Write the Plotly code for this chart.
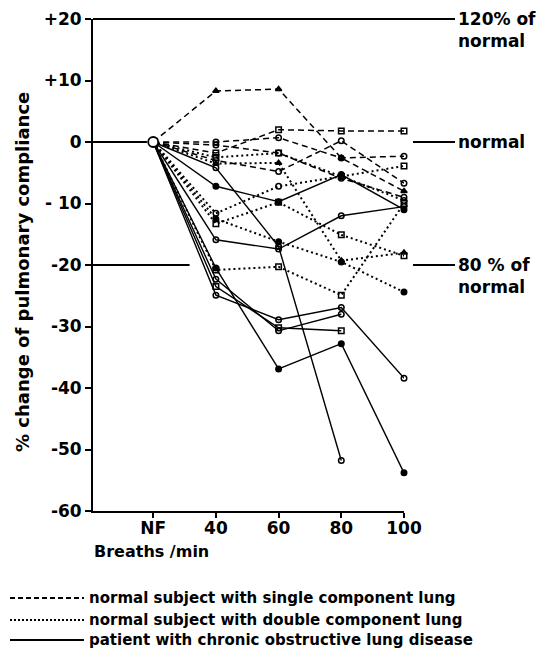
import plotly.graph_objects as go

# ---------------- data ----------------
categories = ["NF", "40", "60", "80", "100"]

# normal subjects, single component lung (dashed)
single_1 = [0, 8.3, 8.6, -2.6, -8.0]
single_2 = [0, -1.8, 2.0, 1.8, 1.8]
single_3 = [0, 0.0, 0.7, -2.6, -2.3]
single_4 = [0, -3.0, -4.8, 0.2, -6.7]
single_5 = [0, -0.5, -1.8, -5.9, -9.0]

# normal subjects, double component lung (dotted)
double_1 = [0, -2.5, -1.8, -5.6, -3.9]
double_2 = [0, -3.5, -3.4, -19.3, -18.0]
double_3 = [0, -11.6, -7.2, -5.6, -9.5]
double_4 = [0, -13.3, -9.8, -15.1, -18.5]
double_5 = [0, -20.8, -20.3, -24.9, -10.0]
double_6 = [0, -12.5, -16.2, -19.5, -24.4]

# patients with chronic obstructive lung disease (solid)
copd_1 = [0, -4.2, -17.0, -51.8, None]
copd_2 = [0, -7.2, -9.7, -5.3, -11.0]
copd_3 = [0, -15.9, -17.4, -12.0, -10.5]
copd_4 = [0, -24.9, -28.9, -26.9, -38.4]
copd_5 = [0, -20.5, -36.9, -32.8, -53.8]
copd_6 = [0, -22.3, -30.7, -28.0, None]
copd_7 = [0, -23.5, -30.2, -30.7, None]

y_ticks = [20, 10, 0, -10, -20, -30, -40, -50, -60]
y_tick_labels = ["+20", "+10", "0", "- 10", "-20", "-30", "-40", "-50", "-60"]

ref_levels = [20, 0, -20]
ref_labels = ["120% of<br>normal", "normal", "80 % of<br>normal"]

legend_labels = [
    "normal subject with single component lung",
    "normal subject with double component lung",
    "patient with chronic obstructive lung disease",
]

y_title = "% change of pulmonary compliance"
x_title = "Breaths /min"

# ---------------- layout constants ----------------
OFF = 8  # page body margin of the browser
W, H = 550 - OFF, 651 - OFF
ML, MR, MT, MB = 93 - OFF, 146, 19 - OFF, 140
PW, PH = W - ML - MR, H - MT - MB
Y_MIN, Y_MAX = -60, 20
X_MIN, X_MAX = -0.96, 4.0
FONT = "DejaVu Sans"


def px_x(px):
    return (px - OFF - ML) / PW


def px_y(py):
    return (H - MB - (py - OFF)) / PH


def paper_y(v):
    return (v - Y_MIN) / (Y_MAX - Y_MIN)


fig = go.Figure()

DASH = "6px,4px"
DOT = "2px,3px"

series = [
    (single_1, DASH, "triangle-up", 1.5),
    (single_2, DASH, "square-open", 1.5),
    (single_3, DASH, "circle-open", 1.5),
    (single_4, DASH, "circle-open", 1.5),
    (single_5, DASH, "circle-open", 1.5),
    (double_1, DOT, "square-open", 2),
    (double_2, DOT, "triangle-up", 2),
    (double_3, DOT, "circle-open", 2),
    (double_4, DOT, "square-open", 2),
    (double_5, DOT, "square-open", 2),
    (double_6, DOT, "circle", 2),
    (copd_1, "solid", "circle-open", 1.4),
    (copd_2, "solid", "circle", 1.4),
    (copd_3, "solid", "circle-open", 1.4),
    (copd_4, "solid", "circle-open", 1.4),
    (copd_5, "solid", "circle", 1.4),
    (copd_6, "solid", "circle-open", 1.4),
    (copd_7, "solid", "square-open", 1.4),
]

for vals, dash, sym, lw in series:
    fig.add_trace(go.Scatter(
        x=categories, y=vals, mode="lines", showlegend=False,
        line=dict(color="black", width=lw, dash=dash),
        connectgaps=False, hoverinfo="skip"))
    fig.add_trace(go.Scatter(
        x=categories[1:], y=vals[1:], mode="markers", showlegend=False,
        marker=dict(symbol=sym, size=5.5, color="black",
                    line=dict(color="black", width=1.5)),
        cliponaxis=False, hoverinfo="skip"))

# common starting point
fig.add_trace(go.Scatter(
    x=[categories[0]], y=[single_1[0]], mode="markers", showlegend=False,
    marker=dict(symbol="circle", size=10, color="white",
                line=dict(color="black", width=1.8)),
    cliponaxis=False))

shapes = []
# reference lines: +20 across, 0 and -20 short stubs on left and right
shapes.append(dict(type="line", xref="paper", yref="paper",
                   x0=0, x1=px_x(455), y0=paper_y(ref_levels[0]), y1=paper_y(ref_levels[0]),
                   line=dict(color="black", width=2)))
shapes.append(dict(type="line", xref="x", yref="y",
                   x0=X_MIN, x1=-0.1, y0=ref_levels[1], y1=ref_levels[1],
                   line=dict(color="black", width=2)))
shapes.append(dict(type="line", xref="x", yref="y",
                   x0=X_MIN, x1=0.58, y0=ref_levels[2], y1=ref_levels[2],
                   line=dict(color="black", width=2)))
for lvl in ref_levels[1:]:
    shapes.append(dict(type="line", xref="paper", yref="paper",
                       x0=px_x(413), x1=px_x(455), y0=paper_y(lvl), y1=paper_y(lvl),
                       line=dict(color="black", width=2)))

# legend samples
leg_rows = [598, 620, 640]
leg_dash = ["5px,3px", "2px,2px", "solid"]
for py, d in zip(leg_rows, leg_dash):
    shapes.append(dict(type="line", xref="paper", yref="paper",
                       x0=px_x(10), x1=px_x(84), y0=px_y(py), y1=px_y(py),
                       line=dict(color="black", width=2, dash=d)))

annotations = []
LBL = dict(family=FONT, size=17, color="black", weight="bold")
annotations.append(dict(xref="paper", yref="paper", x=px_x(456), y=paper_y(ref_levels[0]),
                        text=ref_labels[0], showarrow=False, xanchor="left", yanchor="top",
                        yshift=12, align="left", font=LBL))
annotations.append(dict(xref="paper", yref="paper", x=px_x(456), y=paper_y(ref_levels[1]),
                        text=ref_labels[1], showarrow=False, xanchor="left", yanchor="middle",
                        font=LBL))
annotations.append(dict(xref="paper", yref="paper", x=px_x(456), y=paper_y(ref_levels[2]),
                        text=ref_labels[2], showarrow=False, xanchor="left", yanchor="top",
                        yshift=12, align="left", font=LBL))
# axis titles
annotations.append(dict(xref="paper", yref="paper", x=px_x(22), y=px_y(272),
                        text=y_title, showarrow=False, textangle=-90,
                        xanchor="center", yanchor="middle",
                        font=dict(family=FONT, size=18, color="black", weight="bold")))
annotations.append(dict(xref="paper", yref="paper", x=px_x(92), y=px_y(551),
                        text=x_title, showarrow=False, xanchor="left", yanchor="middle",
                        font=dict(family=FONT, size=16, color="black", weight="bold")))
# legend texts
for py, lab in zip(leg_rows, legend_labels):
    annotations.append(dict(xref="paper", yref="paper", x=px_x(87), y=px_y(py),
                            text=lab, showarrow=False, xanchor="left", yanchor="middle",
                            font=dict(family=FONT, size=15, color="black", weight="bold")))

fig.update_layout(
    width=W, height=H,
    margin=dict(l=ML, r=MR, t=MT, b=MB, pad=0, autoexpand=False),
    paper_bgcolor="white", plot_bgcolor="white",
    showlegend=False,
    shapes=shapes, annotations=annotations,
    font=dict(family=FONT, color="black"),
    xaxis=dict(type="category", categoryorder="array", categoryarray=categories,
               range=[X_MIN, X_MAX], showgrid=False, zeroline=False, automargin=False,
               showline=True, linecolor="black", linewidth=2,
               ticks="outside", ticklen=5, tickwidth=2, tickcolor="black",
               ticklabelstandoff=-4,
               tickvals=categories, ticktext=categories,
               tickfont=dict(family=FONT, size=17, color="black", weight="bold")),
    yaxis=dict(range=[Y_MIN, Y_MAX], showgrid=False, zeroline=False, automargin=False,
               showline=True, linecolor="black", linewidth=2,
               ticks="outside", ticklen=6, tickwidth=2, tickcolor="black",
               tickvals=y_ticks, ticktext=y_tick_labels,
               tickfont=dict(family=FONT, size=17, color="black", weight="bold")),
)

fig.write_html("out.html")
